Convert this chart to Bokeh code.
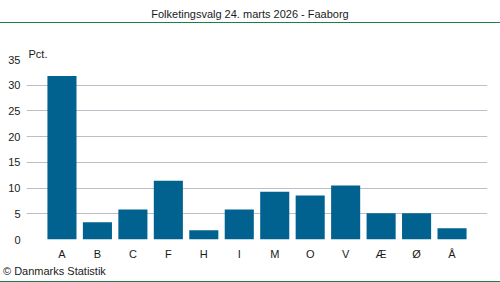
from bokeh.plotting import figure
from bokeh.models import FactorRange, SingleIntervalTicker, Title, Div
from bokeh.layouts import column
from bokeh.embed import file_html
from bokeh.resources import INLINE

categories = ["A", "B", "C", "F", "H", "I", "M", "O", "V", "Æ", "Ø", "Å"]
values = [31.8, 3.35, 5.85, 11.4, 1.8, 5.85, 9.3, 8.55, 10.5, 5.1, 5.1, 2.2]
title_text = "Folketingsvalg 24. marts 2026 - Faaborg"
unit_text = "Pct."
source_text = "© Danmarks Statistik"

FONT = "Liberation Sans"
FS = "11px"
TXT = "#1a1a1a"
BAR = "#02628f"
GREEN = "#1b7f4b"
GRID = "#bebec8"

W = 500
TOP_H = 23      # header strip (title + green rule)
BOT_H = 20      # footer strip (source + green rule)
FIG_H = 282 - TOP_H - BOT_H

header = Div(
    text=(f'<div style="box-sizing:border-box;width:{W}px;height:{TOP_H}px;padding-top:8px;'
          f'line-height:13px;font-family:\'{FONT}\';font-size:{FS};color:{TXT};text-align:center;'
          f'border-bottom:1px solid {GREEN};white-space:nowrap;">{title_text}</div>'),
    width=W, height=TOP_H, margin=0,
)
footer = Div(
    text=(f'<div style="box-sizing:border-box;width:{W}px;height:{BOT_H}px;padding-top:3px;padding-left:3px;'
          f'line-height:13px;font-family:\'{FONT}\';font-size:{FS};color:{TXT};text-align:left;'
          f'border-bottom:1px solid {GREEN};white-space:nowrap;">{source_text}</div>'),
    width=W, height=BOT_H, margin=0,
)

p = figure(
    width=W, height=FIG_H,
    x_range=FactorRange(factors=categories, range_padding=0.5, range_padding_units="absolute"),
    y_range=(0, 35),
    output_backend="svg", toolbar_location=None,
    min_border_left=26, min_border_right=13, min_border_top=59 - TOP_H,
    min_border_bottom=FIG_H - (240 - TOP_H),
    margin=0,
)
p.outline_line_color = None
p.background_fill_color = "white"
p.border_fill_color = "white"

p.vbar(x=categories, top=values, width=0.82, color=BAR, line_color=None)

p.yaxis.ticker = SingleIntervalTicker(interval=5)
p.yaxis.axis_line_color = None
p.yaxis.major_tick_line_color = None
p.yaxis.minor_tick_line_color = None
p.yaxis.major_tick_in = 0
p.yaxis.major_tick_out = 0
p.yaxis.major_label_standoff = 2
p.yaxis.major_label_text_font = FONT
p.yaxis.major_label_text_font_size = FS
p.yaxis.major_label_text_color = TXT

p.xaxis.axis_line_color = None
p.xaxis.major_tick_line_color = None
p.xaxis.major_tick_in = 0
p.xaxis.major_tick_out = 0
p.xaxis.major_label_standoff = 8
p.xaxis.major_label_text_font = FONT
p.xaxis.major_label_text_font_size = FS
p.xaxis.major_label_text_color = TXT

p.xgrid.grid_line_color = None
p.ygrid.grid_line_color = GRID
p.ygrid.grid_line_width = 1

p.add_layout(Title(text=unit_text, align="left", offset=2, standoff=0,
                   text_font=FONT, text_font_size=FS, text_font_style="normal",
                   text_color=TXT), "above")

layout = column(header, p, footer, spacing=0, margin=0)
open("out.html", "w").write(file_html(layout, INLINE))
